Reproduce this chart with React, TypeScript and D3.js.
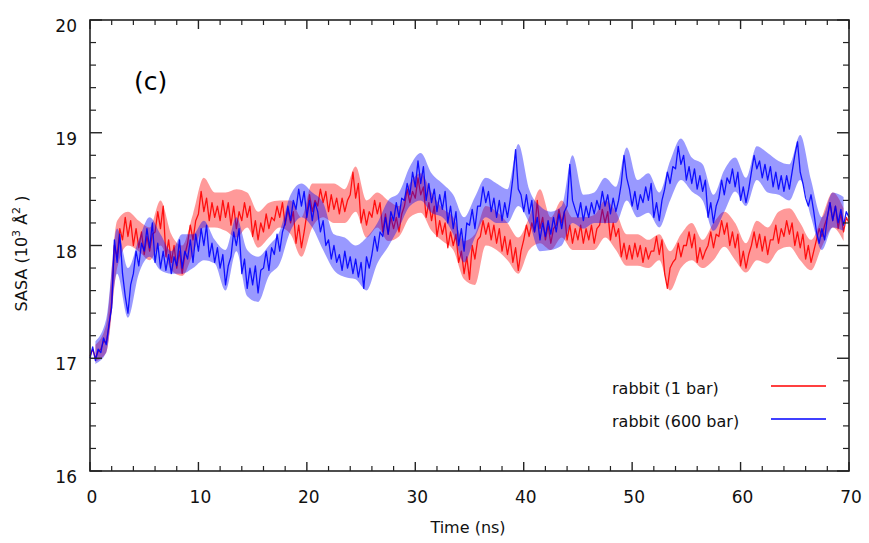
import React from "react";
import * as d3 from "d3";

const timeStep = 0.25;
const seriesNames = ["rabbit (1 bar)", "rabbit (600 bar)"];
const xTicks = [0, 10, 20, 30, 40, 50, 60, 70];
const yTicks = [16, 17, 18, 19, 20];

const red1bar = [
  17.02, 17.08, 17.0, 17.06, 17.08, 17.15, 17.14, 17.28, 17.5, 18.0, 17.9, 18.15,
  18.05, 18.25, 18.08, 18.22, 18.0, 18.15, 17.98, 18.12, 17.92, 18.08, 17.95, 18.1,
  18.12, 18.3, 18.15, 18.35, 17.9, 18.05, 17.85, 18.0, 17.8, 17.95, 17.75, 17.92,
  18.02, 18.18, 18.05, 18.22, 18.28, 18.48, 18.3, 18.42, 18.22, 18.38, 18.25, 18.35,
  18.22, 18.4, 18.25, 18.38, 18.18, 18.35, 18.15, 18.3, 18.22, 18.38, 18.25, 18.35,
  18.08, 18.22, 18.05, 18.2, 18.12, 18.28, 18.15, 18.25, 18.22, 18.35, 18.25, 18.38,
  18.18, 18.32, 18.2, 18.3, 18.02, 18.18, 17.98, 18.12, 18.28, 18.45, 18.3, 18.4,
  18.35, 18.5, 18.38, 18.48, 18.3, 18.45, 18.32, 18.42, 18.28, 18.42, 18.3, 18.4,
  18.45, 18.65, 18.42, 18.55, 18.2, 18.32, 18.18, 18.3, 18.25, 18.4, 18.28, 18.38,
  18.12, 18.28, 18.1, 18.25, 18.15, 18.25, 18.12, 18.28, 18.35, 18.5, 18.38, 18.48,
  18.42, 18.6, 18.45, 18.52, 18.25, 18.38, 18.22, 18.35, 18.08, 18.22, 18.1, 18.2,
  17.98, 18.12, 18.0, 18.1, 17.85, 17.95, 17.75, 17.9, 17.7, 18.0, 17.88, 18.05,
  18.08, 18.22, 18.1, 18.2, 18.05, 18.18, 18.02, 18.15, 17.95, 18.08, 17.92, 18.05,
  17.85, 17.98, 17.78, 17.95, 18.05, 18.18, 18.08, 18.2, 18.12, 18.4, 18.15, 18.25,
  18.05, 18.18, 18.02, 18.15, 18.18, 18.32, 18.2, 18.3, 18.05, 18.18, 18.02, 18.15,
  18.05, 18.18, 18.02, 18.15, 18.05, 18.18, 18.02, 18.15, 18.18, 18.32, 18.2, 18.3,
  18.05, 18.2, 18.08, 18.15, 17.9, 18.02, 17.88, 18.0, 17.88, 18.02, 17.9, 18.0,
  17.85, 17.98, 17.88, 17.95, 17.95, 18.08, 17.92, 18.05, 17.75, 17.62, 17.8, 17.85,
  17.88, 18.02, 17.9, 18.0, 18.0, 18.12, 17.98, 18.1, 17.85, 17.98, 17.88, 17.95,
  18.0, 18.12, 17.98, 18.1, 18.08, 18.22, 18.1, 18.2, 18.0, 18.12, 17.98, 18.1,
  17.82, 17.95, 17.8, 17.92, 18.0, 18.12, 17.98, 18.1, 17.95, 18.08, 17.92, 18.05,
  18.05, 18.18, 18.02, 18.15, 18.08, 18.22, 18.1, 18.2, 18.0, 18.12, 17.98, 18.1,
  17.88, 18.0, 17.85, 17.95, 18.05, 18.15, 18.08, 18.18, 18.25, 18.38, 18.22, 18.35,
  18.15, 18.28, 18.12, 18.25, 18.2,
];

const blue600bar = [
  17.0, 17.1, 16.98, 17.08, 17.05, 17.18, 17.12, 17.3, 17.45, 18.05, 17.85, 18.1,
  17.75, 17.55, 17.4, 17.65, 17.75, 17.95, 17.82, 18.02, 17.95, 18.15, 17.98, 18.2,
  17.85, 18.02, 17.8, 17.95, 17.78, 17.92, 17.75, 17.9, 17.82, 18.05, 17.8, 17.95,
  17.88, 18.05, 17.85, 18.1, 17.95, 18.15, 18.0, 18.18, 17.9, 18.02, 17.85, 17.98,
  17.8, 17.92, 17.65, 17.82, 17.9, 18.12, 18.0, 18.15, 17.75, 17.88, 17.62, 17.8,
  17.65, 17.82, 17.58, 17.78, 17.8, 17.95, 17.78, 17.98, 17.92, 18.1, 17.95, 18.12,
  18.2, 18.35, 18.22, 18.4, 18.32, 18.5, 18.35, 18.48, 18.25, 18.4, 18.22, 18.38,
  18.3, 18.12, 18.22, 18.0, 18.05, 17.88, 18.0, 17.85, 17.92, 17.78, 17.95, 17.8,
  17.9, 17.75, 17.88, 17.72, 17.85, 17.62, 17.9, 17.8, 17.92, 18.08, 17.95, 18.12,
  18.08, 18.25, 18.1, 18.3, 18.22, 18.38, 18.25, 18.42, 18.4, 18.55, 18.45, 18.65,
  18.52, 18.75, 18.55, 18.7, 18.4, 18.55, 18.38, 18.5, 18.3, 18.45, 18.32, 18.48,
  18.2, 18.35, 18.15, 18.3, 18.0, 18.15, 17.95, 18.2, 18.18, 18.32, 18.15, 18.35,
  18.35, 18.52, 18.38, 18.48, 18.3, 18.42, 18.25, 18.4, 18.22, 18.38, 18.25, 18.4,
  18.6, 18.85, 18.5, 18.45, 18.3, 18.45, 18.28, 18.4, 18.12, 18.25, 18.05, 18.2,
  18.08, 18.22, 18.1, 18.25, 18.12, 18.28, 18.15, 18.3, 18.35, 18.72, 18.4, 18.32,
  18.25, 18.38, 18.22, 18.35, 18.25, 18.38, 18.28, 18.4, 18.32, 18.48, 18.35, 18.45,
  18.28, 18.42, 18.3, 18.4, 18.55, 18.8, 18.6, 18.5, 18.35, 18.48, 18.32, 18.45,
  18.38, 18.52, 18.4, 18.55, 18.25, 18.38, 18.22, 18.4, 18.5, 18.65, 18.55, 18.7,
  18.68, 18.88, 18.72, 18.8, 18.58, 18.7, 18.55, 18.68, 18.5, 18.62, 18.48, 18.58,
  18.25, 18.38, 18.2, 18.35, 18.42, 18.58, 18.45, 18.6, 18.55, 18.68, 18.52, 18.65,
  18.4, 18.52, 18.38, 18.5, 18.65, 18.8, 18.68, 18.75, 18.6, 18.72, 18.58, 18.7,
  18.52, 18.65, 18.5, 18.62, 18.48, 18.62, 18.5, 18.65, 18.8, 18.92, 18.65, 18.55,
  18.42, 18.35, 18.45, 18.3, 18.12, 18.02, 18.15, 18.05, 18.25, 18.38, 18.22, 18.35,
  18.2, 18.32, 18.18, 18.3, 18.25,
];

// Per-nanosecond fluctuation envelope (min / max within each 1 ns window, centred at k+0.5 ns)
const redLow = [
  16.97, 17.05, 17.8, 18.0, 17.95, 17.87, 18.0, 17.78, 17.73, 17.93, 18.16, 18.16, 18.13, 18.07,
  18.16, 17.98, 18.07, 18.16, 18.1, 17.9, 18.16, 18.25, 18.2, 18.2, 18.3, 18.07, 18.16, 18.04,
  18.08, 18.25, 18.29, 18.13, 18.04, 17.96, 17.7, 17.65, 18.0, 17.96, 17.87, 17.75, 17.96, 18.02,
  17.96, 18.07, 17.96, 17.96, 17.96, 18.07, 17.96, 17.82, 17.82, 17.8, 17.87, 17.6, 17.8, 17.87,
  17.8, 17.87, 17.99, 17.87, 17.76, 17.87, 17.84, 17.96, 17.99, 17.87, 17.78, 17.99, 18.16, 18.04,
];
const redHigh = [
  17.12, 17.3, 18.22, 18.3, 18.22, 18.16, 18.4, 18.1, 18.0, 18.28, 18.6, 18.47, 18.47, 18.5,
  18.47, 18.3, 18.38, 18.4, 18.4, 18.25, 18.55, 18.55, 18.55, 18.5, 18.7, 18.4, 18.47, 18.4,
  18.35, 18.55, 18.64, 18.47, 18.33, 18.25, 18.04, 18.1, 18.35, 18.3, 18.2, 18.07, 18.25, 18.5,
  18.25, 18.4, 18.25, 18.25, 18.27, 18.4, 18.3, 18.1, 18.1, 18.05, 18.1, 17.95, 18.1, 18.2,
  18.05, 18.2, 18.3, 18.2, 18.02, 18.22, 18.16, 18.3, 18.33, 18.2, 18.05, 18.25, 18.47, 18.33,
];
const blueLow = [
  16.95, 17.05, 17.75, 17.36, 17.75, 17.9, 17.78, 17.75, 17.75, 17.8, 17.87, 17.84, 17.6, 17.95,
  17.55, 17.5, 17.73, 17.84, 18.13, 18.25, 18.16, 17.96, 17.78, 17.72, 17.7, 17.6, 17.84, 17.99,
  18.16, 18.35, 18.4, 18.29, 18.25, 18.1, 17.85, 18.07, 18.25, 18.2, 18.2, 18.35, 18.2, 17.95,
  17.96, 18.0, 18.2, 18.15, 18.2, 18.2, 18.2, 18.4, 18.25, 18.29, 18.16, 18.4, 18.58, 18.48,
  18.4, 18.13, 18.3, 18.48, 18.35, 18.58, 18.47, 18.45, 18.4, 18.58, 18.25, 17.96, 18.16, 18.13,
];
const blueHigh = [
  17.15, 17.35, 18.15, 17.8, 18.05, 18.25, 18.1, 17.95, 18.1, 18.1, 18.22, 18.05, 17.96, 18.25,
  17.96, 17.9, 18.0, 18.13, 18.45, 18.55, 18.47, 18.38, 18.1, 18.07, 18.0, 18.07, 18.2, 18.4,
  18.47, 18.7, 18.82, 18.64, 18.55, 18.45, 18.25, 18.43, 18.6, 18.55, 18.5, 18.9, 18.5, 18.35,
  18.3, 18.35, 18.8, 18.45, 18.47, 18.6, 18.52, 18.87, 18.58, 18.64, 18.47, 18.75, 18.95, 18.78,
  18.72, 18.45, 18.67, 18.78, 18.6, 18.88, 18.82, 18.75, 18.72, 18.98, 18.58, 18.25, 18.47, 18.43,
];

const W = 869;
const H = 543;
const M = { left: 90, right: 20, top: 20, bottom: 72 };
const FONT = "'DejaVu Sans', 'Noto Sans', sans-serif";

export default function App() {
  const x = d3.scaleLinear().domain([0, 70]).range([M.left, W - M.right]);
  const y = d3.scaleLinear().domain([16, 20]).range([H - M.bottom, M.top]);
  const line = d3
    .line<number>()
    .x((_, i) => x(i * timeStep))
    .y((d) => y(d));
  const band = (lo: number[], hi: number[]) =>
    d3
      .area<number>()
      .x((_, i) => x(i + 0.5))
      .y0((_, i) => y(lo[i]))
      .y1((_, i) => y(hi[i]))
      .curve(d3.curveMonotoneX)(lo) || "";

  const x0 = x(0), x1 = x(70), y0 = y(16), y1 = y(20);
  const xMinor = d3.range(0, 70.001, 2).filter((v) => v % 10 !== 0);
  const yMinor = d3.range(16, 20.001, 0.2).filter((v) => Math.abs(v - Math.round(v)) > 0.01);

  const series = [
    { name: seriesNames[0], data: red1bar, lo: redLow, hi: redHigh, color: "#ff0000", ly: 384 },
    { name: seriesNames[1], data: blue600bar, lo: blueLow, hi: blueHigh, color: "#0000ff", ly: 417 },
  ];

  return (
    <svg width={W} height={H} style={{ display: "block", position: "absolute", left: 0, top: 0, background: "#fff" }} fontFamily={FONT}>
      <rect width={W} height={H} fill="#fff" />
      {series.map((s) => (
        <g key={s.name}>
          <path d={band(s.lo, s.hi)} fill={s.color} fillOpacity={0.4} stroke="none" />
          <path d={line(s.data) || ""} fill="none" stroke={s.color} strokeWidth={1.3} strokeOpacity={0.9} strokeLinejoin="round" />
        </g>
      ))}
      <rect x={x0} y={y1} width={x1 - x0} height={y0 - y1} fill="none" stroke="#222" strokeWidth={1.6} />
      {xTicks.map((t) => (
        <g key={"xt" + t}>
          <line x1={x(t)} x2={x(t)} y1={y0} y2={y0 - 9} stroke="#222" strokeWidth={1.4} />
          <line x1={x(t)} x2={x(t)} y1={y1} y2={y1 + 9} stroke="#222" strokeWidth={1.4} />
          <text x={x(t) + 2} y={503} textAnchor="middle" fontSize={17} fill="#111">{t}</text>
        </g>
      ))}
      {xMinor.map((t) => (
        <g key={"xm" + t}>
          <line x1={x(t)} x2={x(t)} y1={y0} y2={y0 - 5} stroke="#222" strokeWidth={1.2} />
          <line x1={x(t)} x2={x(t)} y1={y1} y2={y1 + 5} stroke="#222" strokeWidth={1.2} />
        </g>
      ))}
      {yTicks.map((t) => (
        <g key={"yt" + t}>
          <line x1={x0} x2={x0 + 12} y1={y(t)} y2={y(t)} stroke="#222" strokeWidth={1.4} />
          <line x1={x1} x2={x1 - 12} y1={y(t)} y2={y(t)} stroke="#222" strokeWidth={1.4} />
          <text x={77} y={y(t) + 12} textAnchor="end" fontSize={17} fill="#111">{t}</text>
        </g>
      ))}
      {yMinor.map((t) => (
        <g key={"ym" + t}>
          <line x1={x0} x2={x0 + 6} y1={y(t)} y2={y(t)} stroke="#222" strokeWidth={1.2} />
          <line x1={x1} x2={x1 - 6} y1={y(t)} y2={y(t)} stroke="#222" strokeWidth={1.2} />
        </g>
      ))}
      <text x={468} y={533} textAnchor="middle" fontSize={16} fill="#111">Time (ns)</text>
      <text transform={`translate(27, ${(y0 + y1) / 2 + 8}) rotate(-90)`} textAnchor="middle" fontSize={16} fill="#111">
        SASA (10<tspan fontSize={11} dy={-7}>3</tspan><tspan dy={7}> Å</tspan><tspan fontSize={11} dy={-7}>2</tspan><tspan dy={7}> )</tspan>
      </text>
      <text x={134} y={90} fontSize={25} fill="#000">(c)</text>
      {series.map((s) => (
        <g key={"lg" + s.name}>
          <text x={612} y={s.ly + 10} fontSize={16} fill="#111">{s.name}</text>
          <line x1={771} x2={826} y1={s.ly + 2} y2={s.ly + 2} stroke={s.color} strokeWidth={1.4} />
        </g>
      ))}
    </svg>
  );
}
